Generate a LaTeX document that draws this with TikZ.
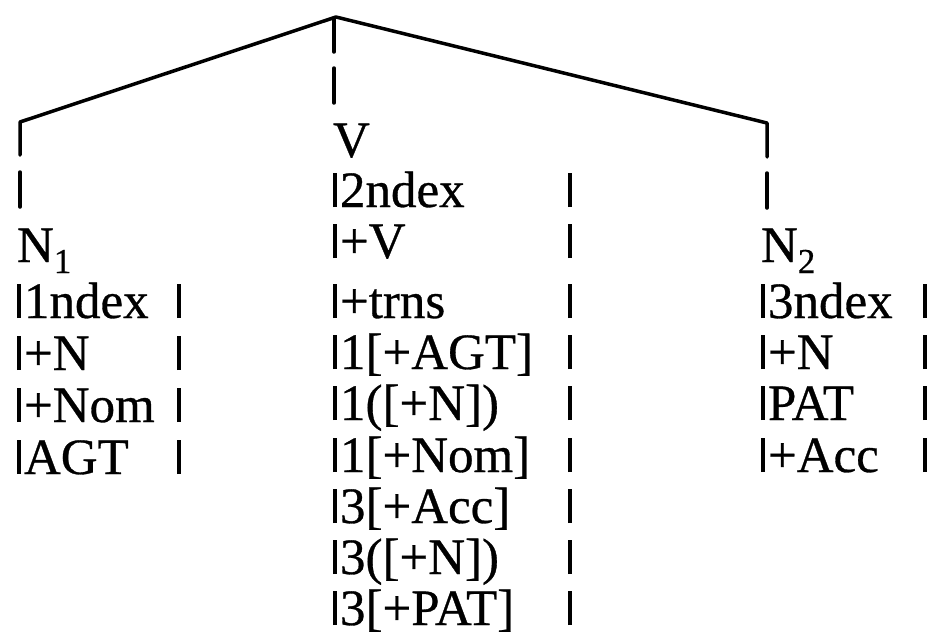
\documentclass[tikz,border=0pt]{standalone}
\usepackage{fontspec}
\setmainfont{Liberation Serif}
\newfontfamily\heavyfont{Liberation Serif}[FakeBold=0.6]
\newcommand\fbar{\rule{3.5pt}{34pt}}
\newcommand\lbar{\fbar\hspace{3.5pt}}
\newcommand\subn[1]{\raisebox{-11pt}{\fontsize{35pt}{35pt}\selectfont #1}}
\begin{document}
\begin{tikzpicture}[x=1pt,y=-1pt,
  row/.style={inner sep=0pt,outer sep=0pt,anchor=base west,font=\heavyfont\fontsize{51pt}{52pt}\selectfont},
  tree/.style={line width=3.5pt,line cap=round,line join=round},
  tick/.style={line width=3.5pt,line cap=round}]
\fill[white] (0,0) rectangle (931,637);
\useasboundingbox (0,0) rectangle (931,637);
% tree skeleton
\coordinate (apex) at (336,17);
\coordinate (lc) at (20,122);
\coordinate (rc) at (767,123);
\coordinate (lend) at (20,155);
\coordinate (rend) at (767,157);
\coordinate (mtop) at (334,18);
\coordinate (mend) at (334,52);
\coordinate (md1) at (334,68);
\coordinate (md2) at (334,103);
\coordinate (ld1) at (20,172);
\coordinate (ld2) at (20,207);
\coordinate (rd1) at (767,173);
\coordinate (rd2) at (767,208);
\draw[tree] (lend) -- (lc) -- (apex) -- (rc) -- (rend);
\draw[tick] (mtop) -- (mend);
\draw[tick] (md1) -- (md2);
\draw[tick] (ld1) -- (ld2);
\draw[tick] (rd1) -- (rd2);
% left column N1
\node[row] (n1) at (17,262) {N\subn{1}};
\node[row] (n1a) at (17,318) {\makebox[160pt][l]{\lbar 1ndex}\fbar};
\node[row] (n1b) at (17,370) {\makebox[160pt][l]{\lbar +N}\fbar};
\node[row] (n1c) at (17,422) {\makebox[160pt][l]{\lbar +Nom}\fbar};
\node[row] (n1d) at (17,474) {\makebox[160pt][l]{\lbar AGT}\fbar};
% middle column V
\node[row] (v) at (333,157) {V};
\node[row] (va) at (333,207) {\makebox[235pt][l]{\lbar 2ndex}\fbar};
\node[row] (vb) at (333,258) {\makebox[235pt][l]{\lbar +V}\fbar};
\node[row] (vc) at (333,318) {\makebox[235pt][l]{\lbar +trns}\fbar};
\node[row] (vd) at (333,369) {\makebox[235pt][l]{\lbar 1[+AGT]}\fbar};
\node[row] (ve) at (333,420) {\makebox[235pt][l]{\lbar 1([+N])}\fbar};
\node[row] (vf) at (333,472) {\makebox[235pt][l]{\lbar 1[+Nom]}\fbar};
\node[row] (vg) at (333,523) {\makebox[235pt][l]{\lbar 3[+Acc]}\fbar};
\node[row] (vh) at (333,574) {\makebox[235pt][l]{\lbar 3([+N])}\fbar};
\node[row] (vi) at (333,625) {\makebox[235pt][l]{\lbar 3[+PAT]}\fbar};
% right column N2
\node[row] (n2) at (761,262) {N\subn{2}};
\node[row] (n2a) at (761,318) {\makebox[162pt][l]{\lbar 3ndex}\fbar};
\node[row] (n2b) at (761,369) {\makebox[162pt][l]{\lbar +N}\fbar};
\node[row] (n2c) at (761,420) {\makebox[162pt][l]{\lbar PAT}\fbar};
\node[row] (n2d) at (761,472) {\makebox[162pt][l]{\lbar +Acc}\fbar};
\end{tikzpicture}
\end{document}
